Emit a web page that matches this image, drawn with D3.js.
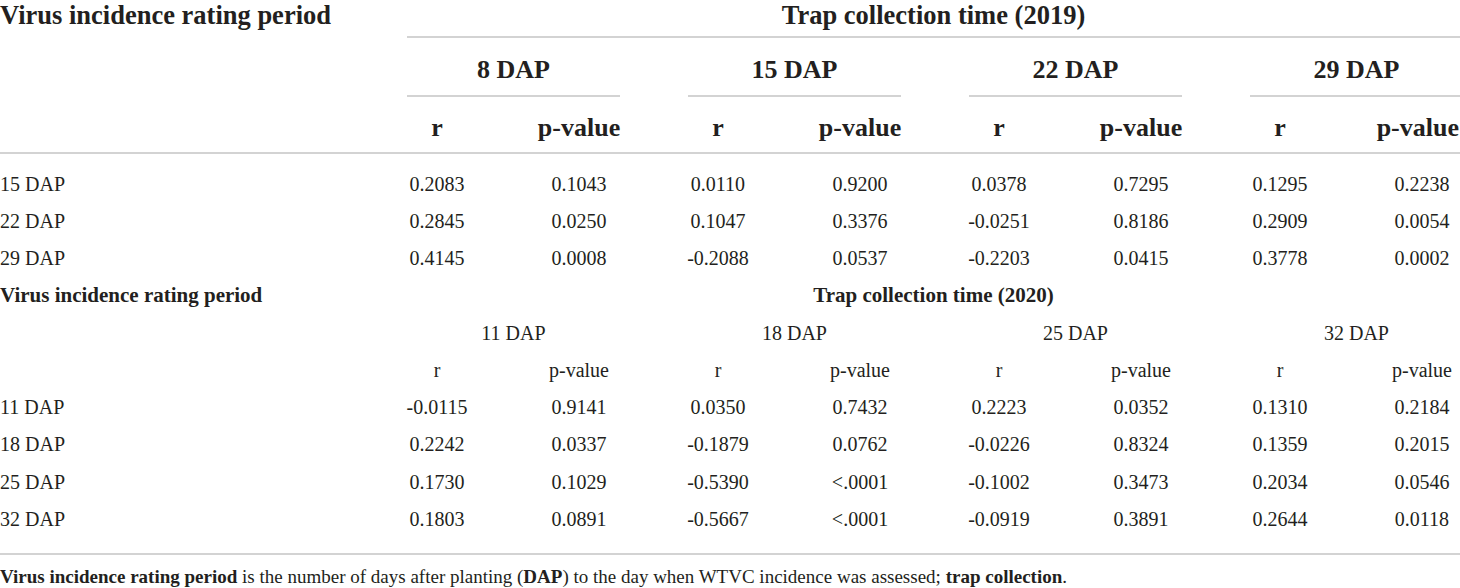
<!DOCTYPE html>
<html>
<head>
<meta charset="utf-8">
<script src="https://cdn.jsdelivr.net/npm/d3@7"></script>
<style>
  body { margin: 0; background: #fff; }
  svg { display: block; }
  text { font-family: "Liberation Serif", "Times New Roman", serif; fill: #231f20; }
</style>
</head>
<body>
<div id="table"></div>
<script>
const groups2019 = ["8 DAP", "15 DAP", "22 DAP", "29 DAP"];
const rows2019 = ["15 DAP", "22 DAP", "29 DAP"];
const r2019 = [
  ["0.2083", "0.0110", "0.0378", "0.1295"],
  ["0.2845", "0.1047", "-0.0251", "0.2909"],
  ["0.4145", "-0.2088", "-0.2203", "0.3778"]
];
const p2019 = [
  ["0.1043", "0.9200", "0.7295", "0.2238"],
  ["0.0250", "0.3376", "0.8186", "0.0054"],
  ["0.0008", "0.0537", "0.0415", "0.0002"]
];

const groups2020 = ["11 DAP", "18 DAP", "25 DAP", "32 DAP"];
const rows2020 = ["11 DAP", "18 DAP", "25 DAP", "32 DAP"];
const r2020 = [
  ["-0.0115", "0.0350", "0.2223", "0.1310"],
  ["0.2242", "-0.1879", "-0.0226", "0.1359"],
  ["0.1730", "-0.5390", "-0.1002", "0.2034"],
  ["0.1803", "-0.5667", "-0.0919", "0.2644"]
];
const p2020 = [
  ["0.9141", "0.7432", "0.0352", "0.2184"],
  ["0.0337", "0.0762", "0.8324", "0.2015"],
  ["0.1029", "<.0001", "0.3473", "0.0546"],
  ["0.0891", "<.0001", "0.3891", "0.0118"]
];

const subCols = ["r", "p-value"];

const width = 1460, height = 588;
const lineColor = "#c4c4c4";

const svg = d3.select("#table").append("svg")
  .attr("width", width)
  .attr("height", height);

// column groups (trap collection times)
const x = d3.scaleBand().domain(d3.range(4)).range([407, 1463]).paddingInner(0.242).paddingOuter(0);
const xSub = d3.scalePoint().domain(subCols).range([30, 172]);

function hline(y, x0, x1) {
  svg.append("line")
    .attr("x1", x0).attr("x2", x1)
    .attr("y1", y).attr("y2", y)
    .attr("stroke", lineColor)
    .attr("stroke-width", 1.6);
}

// keep centred texts inside the right edge
function keepInside(sel) {
  sel.each(function() {
    const w = this.getComputedTextLength();
    const cx = +this.getAttribute("x");
    if (cx + w / 2 > width - 1) this.setAttribute("x", width - 1 - w / 2);
  });
}

function block(opt) {
  // top header
  svg.append("text")
    .attr("x", 0).attr("y", opt.yTitle)
    .attr("font-weight", "bold")
    .attr("font-size", opt.titleSize)
    .text("Virus incidence rating period");

  svg.append("text")
    .attr("x", (x.range()[0] + width) / 2).attr("y", opt.yTitle)
    .attr("text-anchor", "middle")
    .attr("font-weight", "bold")
    .attr("font-size", opt.titleSize)
    .text(opt.trapTitle);

  if (opt.lines) hline(37, x.range()[0], width);

  // group headers
  svg.selectAll(null).data(opt.groups).enter().append("text")
    .attr("x", (d, i) => x(i) + x.bandwidth() / 2)
    .attr("y", opt.yGroup)
    .attr("text-anchor", "middle")
    .attr("font-weight", opt.bold ? "bold" : "normal")
    .attr("font-size", opt.headSize)
    .text(d => d);

  if (opt.lines) {
    opt.groups.forEach((g, i) => hline(96, x(i), Math.min(width, x(i) + x.bandwidth())));
  }

  // r / p-value headers
  opt.groups.forEach((g, i) => {
    svg.selectAll(null).data(subCols).enter().append("text")
      .attr("x", d => x(i) + xSub(d))
      .attr("y", opt.ySub)
      .attr("text-anchor", "middle")
      .attr("font-weight", opt.bold ? "bold" : "normal")
      .attr("font-size", opt.headSize)
      .text(d => d)
      .call(keepInside);
  });

  if (opt.lines) hline(153, 0, width);

  // body rows
  const y = d3.scalePoint().domain(opt.rows).range(opt.yRows);

  svg.selectAll(null).data(opt.rows).enter().append("text")
    .attr("x", 0)
    .attr("y", d => y(d))
    .attr("font-size", 20)
    .text(d => d);

  opt.rows.forEach((row, ri) => {
    opt.groups.forEach((g, gi) => {
      svg.append("text")
        .attr("x", x(gi) + xSub("r"))
        .attr("y", y(row))
        .attr("text-anchor", "middle")
        .attr("font-size", 20)
        .text(opt.r[ri][gi]);
      svg.append("text")
        .attr("x", x(gi) + xSub("p-value"))
        .attr("y", y(row))
        .attr("text-anchor", "middle")
        .attr("font-size", 20)
        .text(opt.p[ri][gi]);
    });
  });
}

block({
  yTitle: 24, titleSize: 26.5, trapTitle: "Trap collection time (2019)",
  groups: groups2019, yGroup: 78, ySub: 136, bold: true, headSize: 26, lines: true,
  rows: rows2019, yRows: [191, 265], r: r2019, p: p2019
});

block({
  yTitle: 302, titleSize: 21, trapTitle: "Trap collection time (2020)",
  groups: groups2020, yGroup: 340, ySub: 377, bold: false, headSize: 20, lines: false,
  rows: rows2020, yRows: [414, 526], r: r2020, p: p2020
});

hline(554, 0, width);

// footnote
const note = svg.append("text")
  .attr("x", 0).attr("y", 583)
  .attr("font-size", 19);
[
  ["Virus incidence rating period", true],
  [" is the number of days after planting (", false],
  ["DAP", true],
  [") to the day when WTVC incidence was assessed; ", false],
  ["trap collection", true],
  [".", false]
].forEach(([t, b]) => {
  note.append("tspan").attr("font-weight", b ? "bold" : "normal").text(t);
});
</script>
</body>
</html>
